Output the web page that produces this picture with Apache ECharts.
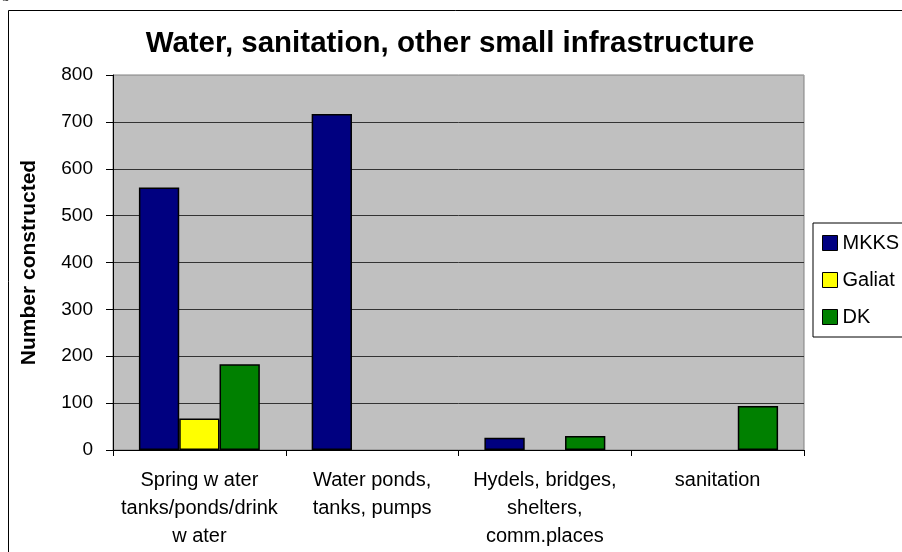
<!DOCTYPE html>
<html>
<head>
<meta charset="utf-8">
<script src="https://cdn.jsdelivr.net/npm/echarts@6/dist/echarts.min.js"></script>
<style>
  html, body { margin: 0; padding: 0; background: #ffffff; }
  #chart { width: 902px; height: 552px; }
</style>
</head>
<body>
<div id="chart"></div>
<script>
// Categories of small infrastructure
const categories = [
  'Spring w ater\ntanks/ponds/drink\nw ater',
  'Water ponds,\ntanks, pumps',
  'Hydels, bridges,\nshelters,\ncomm.places',
  'sanitation'
];
// Number constructed per organisation (null = none built)
const mkks   = [560, 717, 26, null];
const galiat = [67, null, null, null];
const dk     = [183, null, 30, 94];
const seriesNames = ['MKKS', 'Galiat', 'DK'];
const seriesColors = ['#000080', '#FFFF00', '#008000'];
// Value axis ticks
const yTicks = [0, 100, 200, 300, 400, 500, 600, 700, 800];

const FONT = 'Liberation Sans, Arial, sans-serif';

const chart = echarts.init(document.getElementById('chart'), null, { renderer: 'canvas' });

const seriesData = [mkks, galiat, dk];

chart.setOption({
  animation: false,
  backgroundColor: '#ffffff',
  title: {
    text: 'Water, sanitation, other small infrastructure',
    left: 445,
    top: 24,
    textAlign: 'center',
    textStyle: { fontFamily: FONT, fontWeight: 'bold', fontSize: 29.5, color: '#000' }
  },
  graphic: [
    // outer frame of the figure
    { type: 'rect', shape: { x: 8.5, y: 10.5, width: 1000, height: 1000 },
      style: { fill: 'none', stroke: '#000', lineWidth: 1 }, z: 0 },
    // tail of the caption above the frame
    { type: 'text', left: 2, top: -13,
      style: { text: 'g', font: '15px Liberation Serif', fill: '#000' } }
  ],
  legend: {
    orient: 'vertical',
    left: 813,
    top: 223,
    data: seriesNames,
    backgroundColor: '#ffffff',
    borderColor: '#000',
    borderWidth: 1,
    padding: [10, 60, 10, 9],
    itemGap: 17,
    itemWidth: 15,
    itemHeight: 15,
    icon: 'rect',
    itemStyle: { borderColor: '#000', borderWidth: 1 },
    textStyle: { fontFamily: FONT, fontSize: 20, color: '#000', padding: [0, 0, 0, 0] }
  },
  grid: {
    left: 113, top: 75, right: 98, bottom: 102,
    show: true, backgroundColor: '#C0C0C0', borderColor: '#808080', borderWidth: 1
  },
  xAxis: {
    type: 'category',
    data: categories,
    axisLine: { lineStyle: { color: '#000', width: 1 } },
    axisTick: { show: true, length: 6, lineStyle: { color: '#000' } },
    axisLabel: {
      interval: 0, margin: 16, fontFamily: FONT, fontSize: 20, lineHeight: 28, color: '#000'
    },
    splitLine: { show: false }
  },
  yAxis: {
    type: 'value',
    min: yTicks[0],
    max: yTicks[yTicks.length - 1],
    interval: yTicks[1] - yTicks[0],
    name: 'Number constructed',
    nameLocation: 'middle',
    nameGap: 73,
    nameTextStyle: { fontFamily: FONT, fontWeight: 'bold', fontSize: 21, color: '#000' },
    axisLine: { show: true, lineStyle: { color: '#000', width: 1 } },
    axisTick: { show: true, length: 7, lineStyle: { color: '#000' } },
    axisLabel: { margin: 20, fontFamily: FONT, fontSize: 19, color: '#000' },
    splitLine: {
      show: true,
      lineStyle: {
        color: ['#333', '#333', '#333', '#333', '#333', '#333', '#333', '#333', '#a0a0a0'],
        width: 1
      }
    }
  },
  series: seriesNames.map((name, i) => ({
    name: name,
    type: 'bar',
    data: seriesData[i],
    barGap: '0%',
    barCategoryGap: '30%',
    itemStyle: { color: seriesColors[i], borderColor: '#000', borderWidth: 1.5 }
  }))
});
</script>
</body>
</html>
